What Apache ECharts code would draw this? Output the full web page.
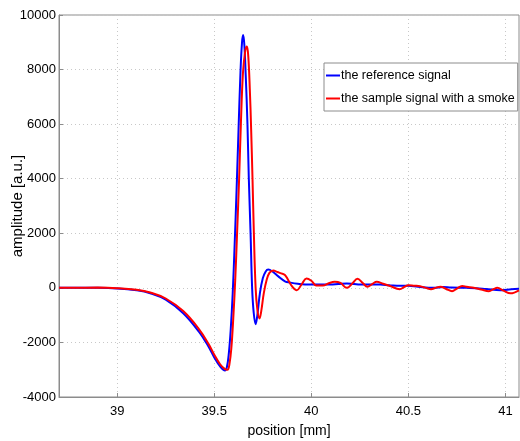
<!DOCTYPE html>
<html>
<head>
<meta charset="utf-8">
<script src="https://cdn.jsdelivr.net/npm/echarts@6/dist/echarts.min.js"></script>
<style>
html,body{margin:0;padding:0;background:#fff;}
#c{width:520px;height:441px;}
</style>
</head>
<body>
<div id="c"></div>
<script>
// Reference signal (blue)
const refX = [38.70,38.90,39.00,39.10,39.17,39.25,39.34,39.42,39.47,39.50,39.53,39.555,39.565,39.575,39.585,39.595,39.605,39.615,39.625,39.635,39.643,39.649,39.655,39.662,39.671,39.678,39.687,39.695,39.703,39.713,39.722,39.735,39.75,39.765,39.778,39.80,39.83,39.864,39.89,39.93,39.993,40.05,40.097,40.14,40.183,40.22,40.25,40.30,40.355,40.40,40.458,40.50,40.55,40.63,40.68,40.72,40.80,40.85,40.90,40.975,41.03,41.07];
const refY = [0,0,-20,-90,-195,-430,-930,-1600,-2150,-2550,-2880,-3030,-2900,-2400,-1500,-200,1600,3600,5800,7900,9000,9270,8900,7800,6000,4000,2000,0,-900,-1330,-1000,-200,350,600,670,600,420,240,195,150,120,120,120,140,160,140,120,125,120,100,75,80,40,0,30,10,0,-10,-40,-85,-50,-30];
// Sample signal with a smoke (red)
const smokeX = [38.70,38.90,39.00,39.10,39.17,39.25,39.34,39.42,39.47,39.50,39.53,39.555,39.568,39.578,39.588,39.598,39.608,39.618,39.628,39.637,39.648,39.660,39.668,39.675,39.683,39.690,39.697,39.704,39.713,39.722,39.733,39.742,39.755,39.77,39.785,39.804,39.825,39.845,39.864,39.88,39.90,39.925,39.95,39.975,40.00,40.025,40.06,40.09,40.12,40.15,40.183,40.21,40.238,40.265,40.289,40.315,40.337,40.37,40.406,40.455,40.48,40.50,40.53,40.56,40.59,40.617,40.64,40.665,40.695,40.725,40.75,40.777,40.80,40.837,40.875,40.915,40.94,40.958,40.99,41.026,41.07];
const smokeY = [0,10,-10,-70,-170,-390,-850,-1500,-2050,-2450,-2800,-2980,-3000,-2800,-2200,-1100,300,2100,4000,6000,7900,8700,8850,8500,7300,5800,4000,2000,0,-800,-1120,-850,-200,300,560,640,580,530,470,300,60,-90,130,340,260,90,90,170,220,180,0,150,330,180,40,150,220,150,70,-50,40,100,80,60,0,-50,0,40,-40,-120,-30,70,40,0,-60,-120,-40,0,-100,-200,-90];
const xTicks = [39,39.5,40,40.5,41];
const yTicks = [-4000,-2000,0,2000,4000,6000,8000,10000];
const seriesNames = ['the reference signal','the sample signal with a smoke'];

const zip = (xs, ys) => xs.map((x, i) => [x, ys[i]]);
const font = '"Liberation Sans",Arial,sans-serif';

const chart = echarts.init(document.getElementById('c'), null, {renderer: 'canvas'});
chart.setOption({
  animation: false,
  backgroundColor: '#fff',
  grid: {left: 59, right: 1, top: 15, bottom: 44, outerBoundsMode: 'none', containLabel: false,
         show: true, borderColor: '#8c8c8c', borderWidth: 1, backgroundColor: 'transparent'},
  legend: {
    orient: 'vertical', left: 324, top: 63,
    backgroundColor: '#fff', borderColor: '#8c8c8c', borderWidth: 1,
    padding: [6, 3, 6, 2], itemGap: 10,
    itemWidth: 14, itemHeight: 2, icon: 'rect',
    textStyle: {fontFamily: font, fontSize: 12.5, color: '#000', padding: [0, 0, 0, -4]},
    data: seriesNames
  },
  xAxis: {
    type: 'value', min: 38.7, max: 41.07,
    name: 'position [mm]', nameLocation: 'middle', nameGap: 27, nameMoveOverlap: false,
    nameTextStyle: {fontFamily: font, fontSize: 14, color: '#000'},
    axisLine: {show: true, onZero: false, lineStyle: {color: '#8c8c8c'}},
    axisTick: {show: true, inside: true, length: 4, lineStyle: {color: '#8c8c8c'}, customValues: xTicks},
    axisLabel: {fontFamily: font, fontSize: 13, color: '#000', margin: 8, customValues: xTicks,
      formatter: v => String(v)},
    splitLine: {show: true, lineStyle: {color: '#c8c8c8', type: [1, 3]}}
  },
  yAxis: {
    type: 'value', min: -4000, max: 10000, interval: 2000,
    name: 'amplitude [a.u.]', nameLocation: 'middle', nameGap: 34, nameMoveOverlap: false,
    nameTextStyle: {fontFamily: font, fontSize: 15, color: '#000'},
    axisLine: {show: true, onZero: false, lineStyle: {color: '#8c8c8c'}},
    axisTick: {show: true, inside: true, length: 4, lineStyle: {color: '#8c8c8c'}},
    axisLabel: {fontFamily: font, fontSize: 13, color: '#000', margin: 3, formatter: v => String(v)},
    splitLine: {show: true, lineStyle: {color: '#c8c8c8', type: [1, 3]}}
  },
  series: [
    {name: seriesNames[0], type: 'line', data: zip(refX, refY), smooth: 0.4, showSymbol: false,
     lineStyle: {color: '#0000ff', width: 2}, itemStyle: {color: '#0000ff'}},
    {name: seriesNames[1], type: 'line', data: zip(smokeX, smokeY), smooth: 0.4, showSymbol: false,
     lineStyle: {color: '#ff0000', width: 2}, itemStyle: {color: '#ff0000'}}
  ]
});
</script>
</body>
</html>
